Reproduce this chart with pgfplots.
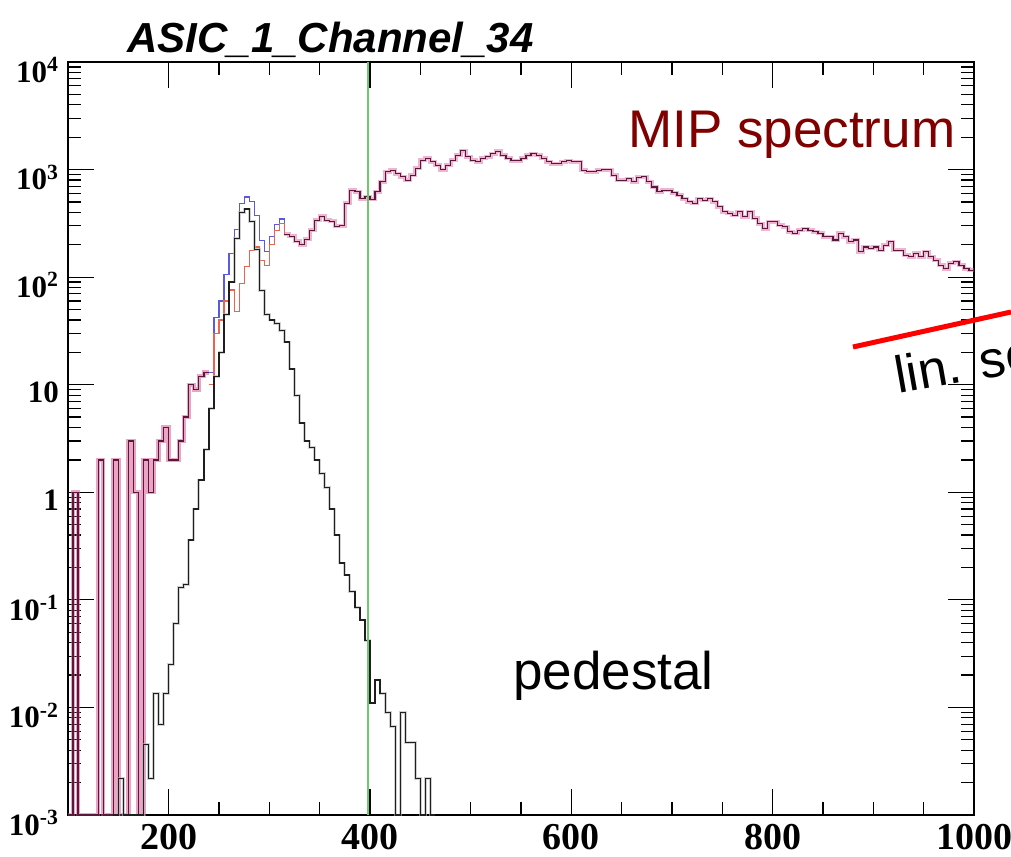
\documentclass[border=0pt]{standalone}
\usepackage{pgfplots}
\usepackage{pgfplotstable}
\pgfplotsset{compat=1.18}
\usepackage{fontspec}
\setmainfont{Liberation Serif}
\newfontfamily\arial{Liberation Sans}
\definecolor{mipred}{RGB}{128,0,0}
\definecolor{blueh}{RGB}{90,90,225}
\definecolor{redh}{RGB}{232,100,80}
\definecolor{pinkh}{RGB}{220,90,150}
\definecolor{darkh}{RGB}{90,25,60}
\definecolor{greenl}{RGB}{110,200,110}
\definecolor{pedblack}{RGB}{30,30,30}

% combined (signal = total) histogram, low part
\pgfplotstableread{
x y
100 0.001
105 1
110 0.001
130 2
135 0.001
145 2
150 0.001
160 3
165 1
170 0.001
175 2
180 1
185 2
190 3
195 4
200 2
205 2
210 3
215 5
220 10
225 9
230 12
235 13
240 13
}\lowtab

% total (blue) in the pedestal region
\pgfplotstableread{
x y
240 13
245 42
250 60
255 105
260 166
265 278
270 487
275 555
280 508
285 371
290 219
295 174
300 240
305 310
310 347
315 250
}\bluetab

% signal (red) in the pedestal region
\pgfplotstableread{
x y
240 10
245 30
250 40
255 60
260 76
265 48
270 87
275 125
280 178
285 191
290 144
295 129
300 200
305 273
310 315
315 250
}\redtab

% combined, MIP part
\pgfplotstableread{
x y
315 250
320 240
325 215
330 200
335 225
340 273
345 339
350 369
355 339
360 330
365 298
370 300
375 484
380 643
385 621
390 538
395 558
400 527
405 621
410 769
415 952
420 987
425 919
430 855
435 797
440 887
445 1024
450 1223
455 1268
460 1180
465 1099
470 1000
475 1099
480 1223
485 1361
490 1500
495 1313
500 1223
505 1180
510 1268
515 1313
520 1410
525 1480
530 1361
535 1268
540 1205
545 1205
550 1268
555 1361
560 1410
565 1361
570 1268
575 1180
580 1138
585 1138
590 1180
595 1205
600 1180
605 1180
610 987
615 952
620 952
625 987
630 1000
635 1000
640 887
645 797
650 797
655 826
660 769
665 844
670 855
675 769
680 690
685 621
690 643
695 643
700 608
705 578
710 538
715 501
720 484
725 538
730 520
735 538
740 501
745 451
750 405
755 391
760 377
765 405
770 364
775 405
780 351
785 315
790 283
795 327
800 327
805 304
810 294
815 264
820 255
825 273
830 283
835 273
840 264
845 255
850 237
855 237
860 221
865 255
870 237
875 213
880 221
885 172
890 191
895 185
900 191
905 178
910 198
915 213
920 178
925 178
930 160
935 155
940 166
945 155
950 172
955 155
960 144
965 129
970 120
975 134
980 139
985 129
990 120
995 116
1000 116
}\hightab

% pedestal (black)
\pgfplotstableread{
x y
145 0.001
150 0.0022
155 0.001
175 0.0045
180 0.0022
185 0.0135
190 0.007
195 0.0135
200 0.025
205 0.06
210 0.13
215 0.14
220 0.36
225 0.7
230 1.3
235 2.5
240 6
245 12
250 20
255 45
260 90
265 230
270 400
275 430
280 330
285 180
290 75
295 45
300 40
305 37
310 32
315 25
320 14
325 8
330 4.4
335 3.0
340 2.6
345 2.0
350 1.5
355 1.1
360 0.7
365 0.4
370 0.22
375 0.17
380 0.12
385 0.085
390 0.065
395 0.042
400 0.011
405 0.018
410 0.0135
415 0.0089
420 0.0066
425 0.001
430 0.0089
435 0.0047
440 0.0047
445 0.0022
450 0.001
455 0.0022
460 0.001
465 0.001
}\pedtab

\begin{document}
\begin{tikzpicture}
\useasboundingbox (0,0) rectangle (505.5pt,428pt);
\begin{axis}[
  at={(34pt,20.5pt)}, anchor=south west,
  scale only axis, width=453pt, height=376.5pt,
  xmin=100, xmax=1000, ymin=1e-3, ymax=1e4, ymode=log,
  axis line style={line width=1pt, black},
  tick align=inside,
  tick style={black, line width=0.6pt},
  major tick length=13pt, minor tick length=6.5pt,
  xtick={200,400,600,800,1000},
  xticklabels={200,400,600,800,1000},
  minor x tick num=3,
  ytick={0.001,0.01,0.1,1,10,100,1000,10000},
  yticklabels={10\textsuperscript{-3},10\textsuperscript{-2},10\textsuperscript{-1},1,10,10\textsuperscript{2},10\textsuperscript{3},10\textsuperscript{4}},
  minor ytick={0.002,0.003,0.004,0.005,0.006,0.007,0.008,0.009,
    0.02,0.03,0.04,0.05,0.06,0.07,0.08,0.09,
    0.2,0.3,0.4,0.5,0.6,0.7,0.8,0.9,
    2,3,4,5,6,7,8,9,
    20,30,40,50,60,70,80,90,
    200,300,400,500,600,700,800,900,
    2000,3000,4000,5000,6000,7000,8000,9000},
  xticklabel style={font=\fontsize{19pt}{19pt}\selectfont\bfseries, yshift=-1pt},
  yticklabel style={font=\fontsize{15.5pt}{15.5pt}\selectfont\bfseries, yshift=-4pt, xshift=-1pt},
  no marks,
  clip=true,
]
\addplot[const plot mark left, blueh, line width=0.6pt] table[x=x,y=y] {\bluetab};
\addplot[const plot mark left, redh, line width=0.6pt] table[x=x,y=y] {\redtab};
\addplot[const plot mark left, pinkh, opacity=0.55, line width=2.2pt] table[x=x,y=y] {\lowtab};
\addplot[const plot mark left, darkh, line width=0.6pt] table[x=x,y=y] {\lowtab};
\addplot[const plot mark left, pinkh, opacity=0.45, line width=2pt] table[x=x,y=y] {\hightab};
\addplot[const plot mark left, darkh, line width=0.6pt] table[x=x,y=y] {\hightab};
\addplot[const plot mark left, gray!60, opacity=0.6, line width=1.4pt] table[x=x,y=y] {\pedtab};
\addplot[const plot mark left, pedblack, line width=0.6pt] table[x=x,y=y] {\pedtab};
\addplot[greenl, line width=0.7pt] coordinates {(398,0.001) (398,10000)};
\end{axis}
\node[anchor=base west, inner sep=0pt, font=\arial\bfseries\itshape\fontsize{21pt}{22pt}\selectfont] at (63.5pt,401.5pt) {ASIC\_1\_Channel\_34};
\node[anchor=base west, inner sep=0pt, text=mipred, font=\arial\fontsize{26.5pt}{28pt}\selectfont] at (314pt,354pt) {MIP spectrum};
\node[anchor=base west, inner sep=0pt, font=\arial\fontsize{26.5pt}{28pt}\selectfont] at (256.5pt,83pt) {pedestal};
\draw[red, line width=2.5pt] (426.5pt,254.5pt) -- (505.5pt,272pt);
\node[anchor=base west, inner sep=0pt, rotate=10, font=\arial\fontsize{26pt}{28pt}\selectfont] at (449pt,231pt) {lin. scale};
\end{tikzpicture}
\end{document}
